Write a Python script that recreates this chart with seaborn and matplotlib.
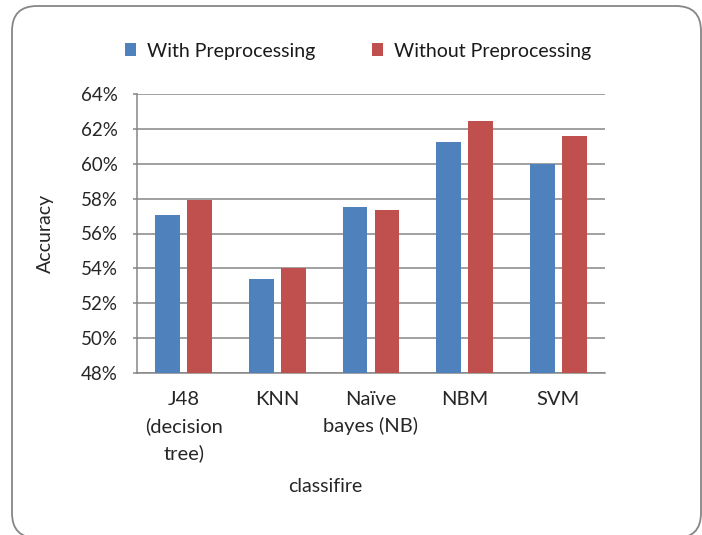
import pandas as pd
import seaborn as sns
import matplotlib.pyplot as plt
from matplotlib.patches import FancyBboxPatch
from matplotlib.ticker import PercentFormatter

classifiers = ['J48\n(decision\ntree)', 'KNN', 'Naïve\nbayes (NB)', 'NBM', 'SVM']
with_prep = [57.06, 53.4, 57.5, 61.25, 60.0]
without_prep = [57.9, 54.0, 57.35, 62.45, 61.6]
series = ['With Preprocessing', 'Without Preprocessing']
colors = ['#4F81BD', '#C0504D']

df = pd.DataFrame({
    'classifier': classifiers * 2,
    'accuracy': with_prep + without_prep,
    'series': [series[0]] * 5 + [series[1]] * 5,
})

sns.set_style('white')
plt.rcParams['font.family'] = ['Lato', 'DejaVu Sans']
plt.rcParams['text.color'] = '#1a1a1a'

fig = plt.figure(figsize=(7.02, 5.35), dpi=100)
ax = fig.add_axes([137 / 702, 1 - 373 / 535, 468 / 702, 279 / 535])

# rounded chart-area border like the Excel original
border = FancyBboxPatch((0.12, -0.03), 6.89, 5.32,
                        boxstyle='round,pad=0,rounding_size=0.25',
                        transform=fig.dpi_scale_trans, facecolor='none',
                        edgecolor='#868686', linewidth=1.3, zorder=-1)
fig.patches.append(border)

sns.barplot(data=df, x='classifier', y='accuracy', hue='series',
            palette=colors, width=0.684, gap=0.22, saturation=1,
            edgecolor='none', ax=ax, zorder=3)

ax.set_ylim(48, 64)
ax.set_yticks(range(48, 65, 2))
ax.yaxis.set_major_formatter(PercentFormatter(decimals=0))
ax.grid(axis='y', color='#868686', linewidth=1.1, zorder=0)
ax.set_axisbelow(True)
for side in ['top', 'right']:
    ax.spines[side].set_visible(False)
for side in ['left', 'bottom']:
    ax.spines[side].set_color('#868686')
    ax.spines[side].set_linewidth(1.1)

ax.tick_params(axis='y', length=3, width=1.1, color='#868686', pad=11,
               labelsize=13.5, left=True)
ax.tick_params(axis='x', length=0, pad=13, labelsize=14.5)

ax.set_ylabel('Accuracy', fontsize=14)
ax.yaxis.set_label_coords(-0.178, 0.5)
ax.set_xlabel('classifire', fontsize=14)
ax.xaxis.set_label_coords(0.402, -0.375)

sns.move_legend(ax, 'center', bbox_to_anchor=(358 / 702, 1 - 51 / 535),
                bbox_transform=fig.transFigure, ncol=2, frameon=False,
                title=None, fontsize=14, handlelength=0.6, handleheight=0.6,
                handletextpad=0.55, columnspacing=2.9)

fig.canvas.draw()
for lbl in ax.get_xticklabels():
    lbl.set_linespacing(1.6)

fig.savefig('out.png', dpi=100)
